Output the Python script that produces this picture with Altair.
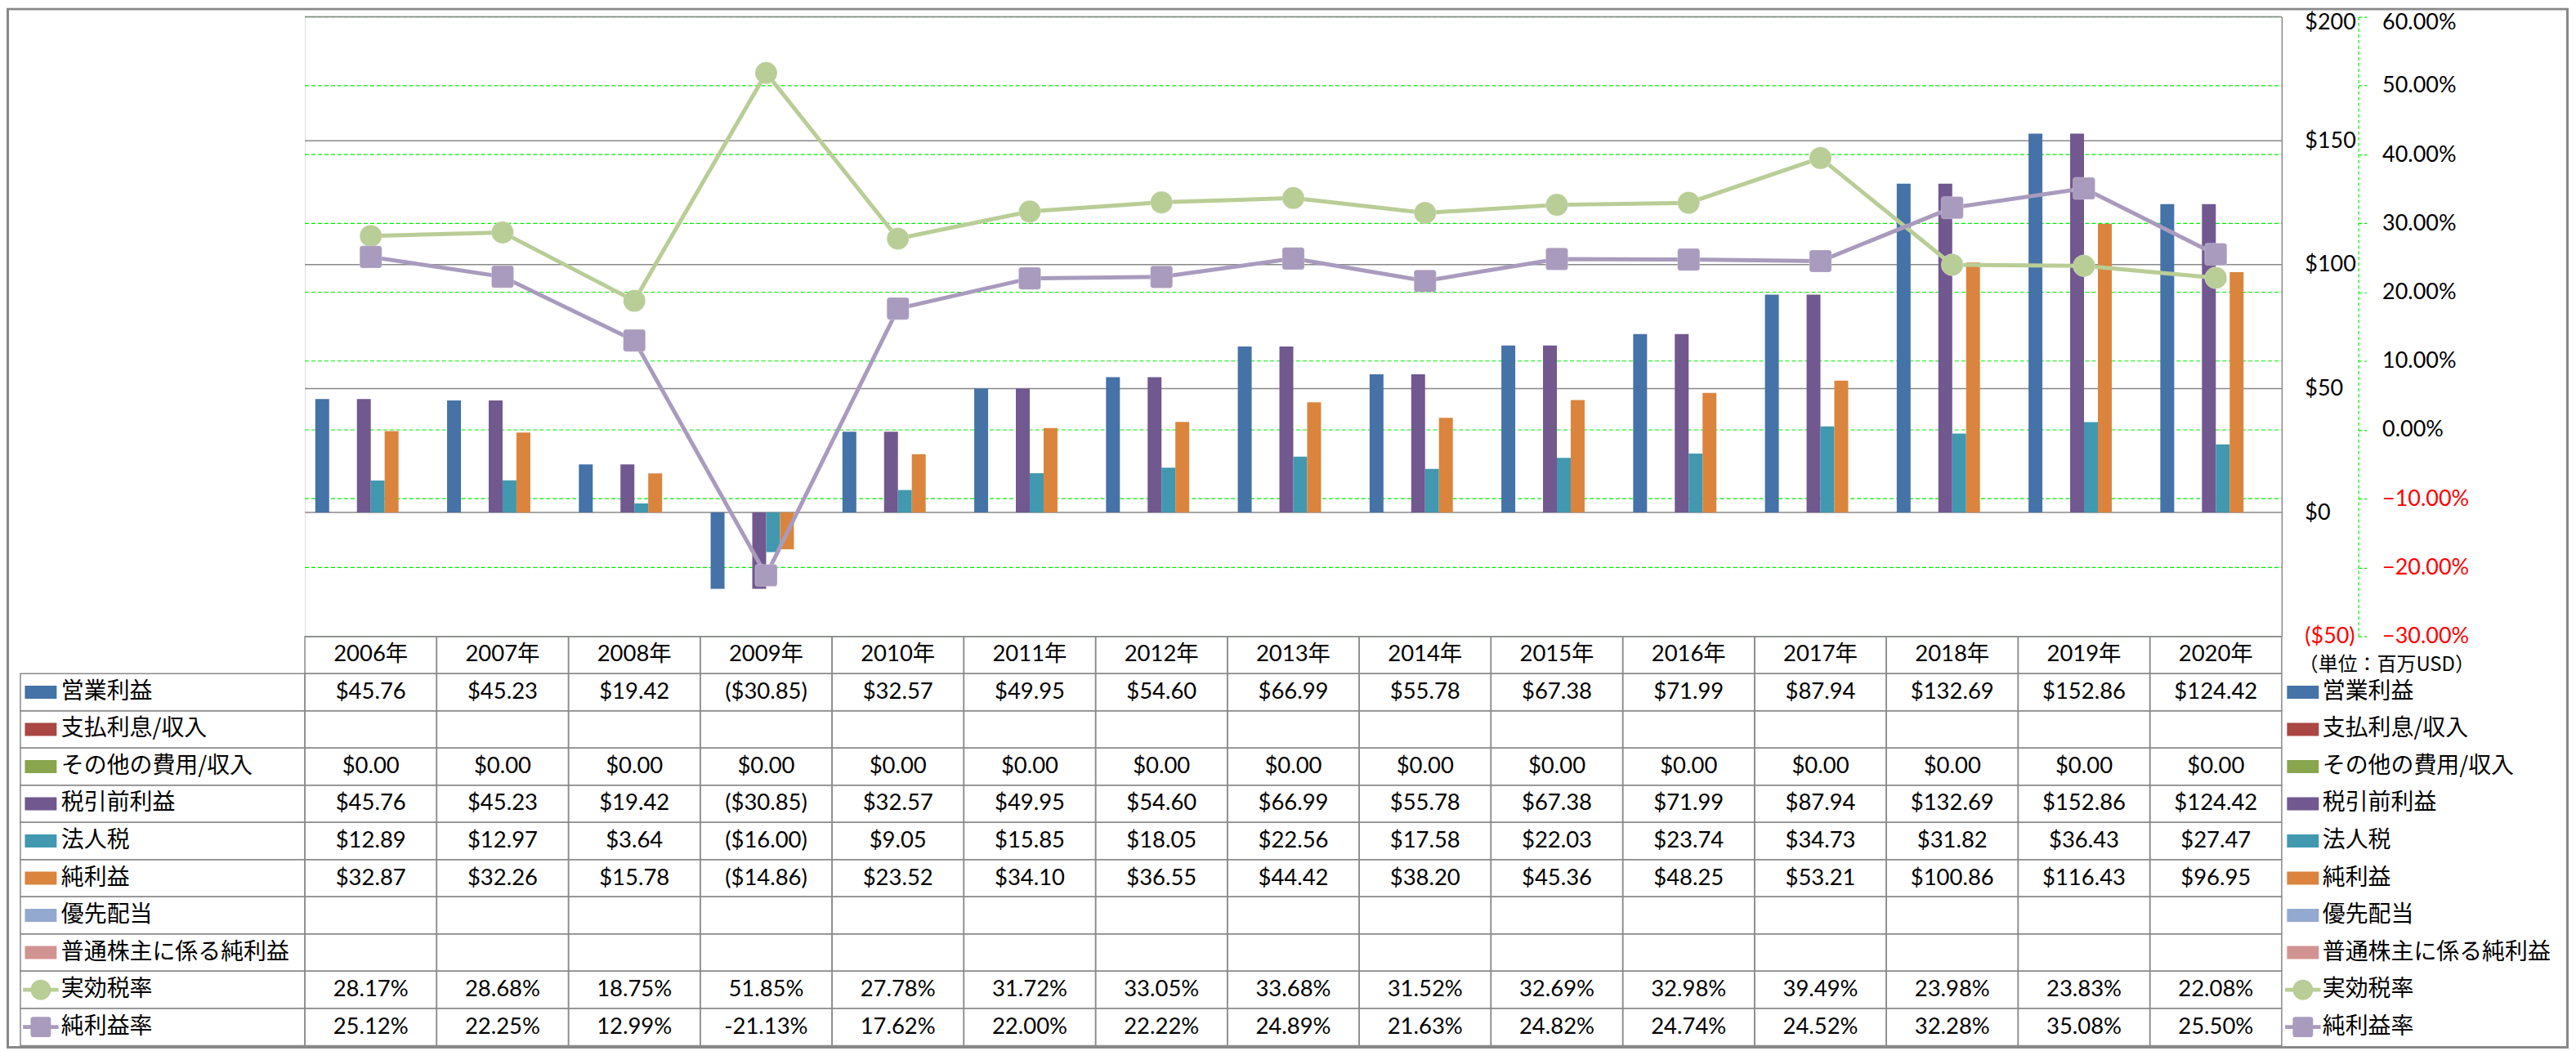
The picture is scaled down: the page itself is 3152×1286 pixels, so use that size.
import altair as alt
import pandas as pd

# ---------------- data ----------------
years = ["2006年", "2007年", "2008年", "2009年", "2010年", "2011年", "2012年", "2013年",
         "2014年", "2015年", "2016年", "2017年", "2018年", "2019年", "2020年"]

op_income = [45.76, 45.23, 19.42, -30.85, 32.57, 49.95, 54.60, 66.99, 55.78, 67.38, 71.99, 87.94, 132.69, 152.86, 124.42]
interest = []          # no values in the source
other = [0.00, 0.00, 0.00, 0.00, 0.00, 0.00, 0.00, 0.00, 0.00, 0.00, 0.00, 0.00, 0.00, 0.00, 0.00]
pretax = [45.76, 45.23, 19.42, -30.85, 32.57, 49.95, 54.60, 66.99, 55.78, 67.38, 71.99, 87.94, 132.69, 152.86, 124.42]
income_tax = [12.89, 12.97, 3.64, -16.00, 9.05, 15.85, 18.05, 22.56, 17.58, 22.03, 23.74, 34.73, 31.82, 36.43, 27.47]
net_income = [32.87, 32.26, 15.78, -14.86, 23.52, 34.10, 36.55, 44.42, 38.20, 45.36, 48.25, 53.21, 100.86, 116.43, 96.95]
preferred = []         # no values
common_net = []        # no values
eff_tax_rate = [28.17, 28.68, 18.75, 51.85, 27.78, 31.72, 33.05, 33.68, 31.52, 32.69, 32.98, 39.49, 23.98, 23.83, 22.08]
net_margin = [25.12, 22.25, 12.99, -21.13, 17.62, 22.00, 22.22, 24.89, 21.63, 24.82, 24.74, 24.52, 32.28, 35.08, 25.50]

bar_series = ["営業利益", "支払利息/収入", "その他の費用/収入", "税引前利益", "法人税",
              "純利益", "優先配当", "普通株主に係る純利益"]
line_series = ["実効税率", "純利益率"]
all_series = bar_series + line_series
series_colors = ["#4572A7", "#AA4643", "#89A54E", "#71588F", "#4198AF",
                 "#DB843D", "#93A9CF", "#D19392", "#B9CD96", "#A99BBD"]

bar_values = {"営業利益": op_income, "支払利息/収入": interest, "その他の費用/収入": other,
              "税引前利益": pretax, "法人税": income_tax, "純利益": net_income,
              "優先配当": preferred, "普通株主に係る純利益": common_net}
line_values = {"実効税率": eff_tax_rate, "純利益率": net_margin}

usd_ticks = [-50, 0, 50, 100, 150, 200]
pct_ticks = [-30, -20, -10, 0, 10, 20, 30, 40, 50, 60]
unit_text = "（単位：百万USD）"

# ---------------- tables for the library ----------------
def fmt_usd(v):
    return "(${:.2f})".format(-v) if v < 0 else "${:.2f}".format(v)

def fmt_pct(v):
    return "{:.2f}%".format(v)

bars_df = pd.DataFrame([{"year": y, "series": s, "value": v}
                        for s, vals in bar_values.items() for y, v in zip(years, vals)])
lines_df = pd.DataFrame([{"year": y, "series": s, "value": v}
                         for s, vals in line_values.items() for y, v in zip(years, vals)])
usd_grid_df = pd.DataFrame({"value": usd_ticks})
pct_grid_df = pd.DataFrame({"value": pct_ticks})

row_keys = ["_header"] + all_series
table_rows = [{"year": y, "row": "_header", "text": y} for y in years]
for s, vals in bar_values.items():
    table_rows += [{"year": y, "row": s, "text": fmt_usd(v)} for y, v in zip(years, vals)]
for s, vals in line_values.items():
    table_rows += [{"year": y, "row": s, "text": fmt_pct(v)} for y, v in zip(years, vals)]
table_df = pd.DataFrame(table_rows)
cells_df = pd.DataFrame([{"year": y, "row": r} for r in row_keys for y in years])
rows_df = pd.DataFrame({"row": all_series, "series": all_series})
bar_rows_df = rows_df[rows_df["series"].isin(bar_series)]
line_rows_df = rows_df[rows_df["series"].isin(line_series)]
one_df = pd.DataFrame({"k": [0]})

# ---------------- styling ----------------
W, H = 2425, 760
NUM_FONT = "Lato, 'Noto Sans CJK JP', sans-serif"
JP_FONT = "'Noto Sans CJK JP', sans-serif"
GRAY = "#898989"
GREEN = "#00EE00"

x_enc = alt.X("year:N", scale=alt.Scale(type="band", domain=years, paddingInner=0, paddingOuter=0), axis=None)
color_enc = alt.Color("series:N", scale=alt.Scale(domain=all_series, range=series_colors), legend=None)
row_enc = alt.Y("row:N", scale=alt.Scale(type="band", domain=row_keys, range=[760, 1262],
                                         paddingInner=0, paddingOuter=0), axis=None)
usd_scale = alt.Scale(domain=[-50, 200], nice=False, zero=False)
pct_scale = alt.Scale(domain=[-30, 60], nice=False, zero=False)

RSQ = "M-0.75,-1H0.75Q1,-1 1,-0.75V0.75Q1,1 0.75,1H-0.75Q-1,1 -1,0.75V-0.75Q-1,-1 -0.75,-1Z"
BAR_SW = "M-1,-0.41H1V0.41H-1Z"
LINE_SW = "M-1,-0.11H1V0.11H-1Z"

# green dashed gridlines of the % axis (own scale, same domain) – drawn first, under the bars
pct_grid = alt.Chart(pct_grid_df).mark_rule(color=GREEN, strokeWidth=1.2, strokeDash=[5, 3]).encode(
    y=alt.Y("value:Q", scale=pct_scale, axis=None), x=alt.value(0), x2=alt.value(W))

# bars on the $ axis
usd_axis = alt.Axis(orient="right", values=usd_ticks, title=None, grid=False,
                    labelExpr="datum.value < 0 ? '($' + format(-datum.value, 'd') + ')' : '$' + format(datum.value, 'd')",
                    labelColor={"condition": {"test": "datum.value < 0", "value": "#FF0000"}, "value": "#000000"},
                    labelOffset={"condition": {"test": "datum.value >= 200", "value": 7}, "value": 0},
                    labelFont=NUM_FONT, labelFontSize=27, labelPadding=28, labelAlign="left",
                    ticks=False, domain=True, domainColor=GRAY, domainWidth=1.5)
usd_grid = alt.Chart(usd_grid_df).mark_rule(color=GRAY, strokeWidth=1.5).encode(
    y=alt.Y("value:Q", scale=usd_scale, axis=usd_axis), x=alt.value(0), x2=alt.value(W))
bars = alt.Chart(bars_df).mark_bar().encode(
    x=x_enc,
    xOffset=alt.XOffset("series:N", scale=alt.Scale(domain=bar_series, paddingInner=0, paddingOuter=0.75)),
    y=alt.Y("value:Q", scale=usd_scale, axis=usd_axis),
    color=color_enc,
)
bar_group = alt.layer(usd_grid, bars)

# lines on the % axis
pct_axis = alt.Axis(orient="right", offset=94, values=pct_ticks, title=None, grid=False,
                    labelExpr="format(datum.value, '.2f') + '%'",
                    labelColor={"condition": {"test": "datum.value < 0", "value": "#FF0000"}, "value": "#000000"},
                    labelOffset={"condition": {"test": "datum.value >= 60", "value": 7}, "value": 0},
                    labelFont=NUM_FONT, labelFontSize=27, labelPadding=19, labelAlign="left",
                    ticks=True, tickColor=GREEN, tickDash=[4, 3], tickSize=10, tickWidth=1.2,
                    domain=True, domainColor=GREEN, domainDash=[4, 3], domainWidth=1.2)
pct_y = alt.Y("value:Q", scale=pct_scale, axis=pct_axis)
line_layers = []
for s, shp in zip(line_series, ["circle", RSQ]):
    d = lines_df[lines_df["series"] == s]
    line_layers.append(alt.Chart(d).mark_line(strokeWidth=5).encode(x=x_enc, y=pct_y, color=color_enc))
    line_layers.append(alt.Chart(d).mark_point(filled=True, opacity=1, size=740, shape=shp,
                                               stroke="#FFFFFF", strokeOpacity=0.25, strokeWidth=1)
                       .encode(x=x_enc, y=pct_y, color=color_enc))
lines = alt.layer(*line_layers)

# data table + legends
cells = alt.Chart(cells_df).mark_rect(fillOpacity=0, stroke=GRAY, strokeWidth=1.5).encode(x=x_enc, y=row_enc)
label_cells = alt.Chart(rows_df).mark_rect(fillOpacity=0, stroke=GRAY, strokeWidth=1.5).encode(
    x=alt.value(-349), x2=alt.value(0), y=row_enc)
values_text = alt.Chart(table_df).mark_text(font=NUM_FONT, fontSize=27.5, color="#000000",
                                             baseline="middle", align="center").encode(
    x=x_enc, y=row_enc, text="text:N")
left_labels = alt.Chart(rows_df).mark_text(font=JP_FONT, fontSize=28, color="#000000",
                                           align="left", baseline="middle").encode(
    x=alt.value(-299), y=row_enc, text="series:N")
right_labels = alt.Chart(rows_df).mark_text(font=JP_FONT, fontSize=28, color="#000000",
                                            align="left", baseline="middle").encode(
    x=alt.value(2475), y=row_enc, text="series:N")

legend_layers = []
for xpos in [-324, 2451]:
    legend_layers.append(alt.Chart(bar_rows_df).mark_point(shape=BAR_SW, filled=True, opacity=1, size=1521)
                         .encode(x=alt.value(xpos), y=row_enc, color=color_enc))
    legend_layers.append(alt.Chart(line_rows_df).mark_point(shape=LINE_SW, filled=True, opacity=1, size=1900)
                         .encode(x=alt.value(xpos), y=row_enc, color=color_enc))
    for s, shp in zip(line_series, ["circle", RSQ]):
        legend_layers.append(alt.Chart(line_rows_df[line_rows_df["series"] == s])
                             .mark_point(shape=shp, filled=True, opacity=1, size=620)
                             .encode(x=alt.value(xpos), y=row_enc, color=color_enc))

unit = alt.Chart(one_df).mark_text(font=JP_FONT, fontSize=24, color="#000000", align="left",
                                   baseline="middle", text=unit_text).encode(
    x=alt.value(2446), y=alt.value(795))
frame = alt.Chart(one_df).mark_rect(fillOpacity=0, stroke="#888888", strokeWidth=3).encode(
    x=alt.value(-364.5), x2=alt.value(2775.5), y=alt.value(-9.5), y2=alt.value(1264))

table = alt.layer(cells, label_cells, values_text, left_labels, right_labels,
                  *legend_layers, unit, frame)

chart = alt.layer(pct_grid, bar_group, lines, table).resolve_scale(y="independent").properties(
    width=W, height=H,
    autosize=alt.AutoSizeParams(type="none"),
    padding={"left": 366, "top": 11, "right": 353, "bottom": 507},
).configure_view(stroke="transparent", strokeWidth=0).configure(background="#FFFFFF")

chart.save("out.html", embed_options={"renderer": "svg", "actions": False})
